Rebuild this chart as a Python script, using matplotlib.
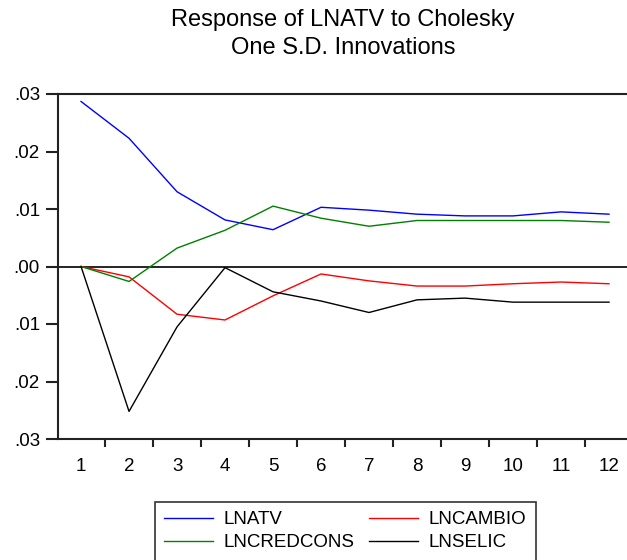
import matplotlib
matplotlib.use('Agg')
import matplotlib.pyplot as plt

# datos
periodos = list(range(1, 13))
lnatv = [0.0287, 0.0223, 0.0130, 0.0081, 0.0064, 0.0103, 0.0098, 0.0091, 0.0088, 0.0088, 0.0095, 0.0091]
lncambio = [0.0, -0.0018, -0.0083, -0.0093, -0.0051, -0.0013, -0.0025, -0.0034, -0.0034, -0.0030, -0.0027, -0.0030]
lncredcons = [0.0, -0.0026, 0.0032, 0.0063, 0.0105, 0.0084, 0.0070, 0.0080, 0.0080, 0.0080, 0.0080, 0.0077]
lnselic = [0.0, -0.0252, -0.0105, -0.0002, -0.0044, -0.0060, -0.0080, -0.0058, -0.0055, -0.0062, -0.0062, -0.0062]
y_ticks = [-0.03, -0.02, -0.01, 0.0, 0.01, 0.02, 0.03]
y_labels = ['.03', '.02', '.01', '.00', '.01', '.02', '.03']

plt.rcParams['font.family'] = ['Liberation Sans', 'DejaVu Sans']

fig = plt.figure(figsize=(6.27, 5.6), dpi=100)
ax = fig.add_axes([58 / 627, 1 - 439 / 560, 1 - 58 / 627, (439 - 94) / 560])

ax.axhline(0, color='black', linewidth=1.2)
l1, = ax.plot(periodos, lnatv, color='#0000ff', linewidth=1.0, label='LNATV')
l2, = ax.plot(periodos, lncambio, color='#ff0000', linewidth=1.0, label='LNCAMBIO')
l3, = ax.plot(periodos, lncredcons, color='#008000', linewidth=1.0, label='LNCREDCONS')
l4, = ax.plot(periodos, lnselic, color='black', linewidth=1.0, label='LNSELIC')

ax.set_xlim(0.52, 12.375)
ax.set_ylim(-0.03, 0.03)

# ejes estilo eviews
ax.set_xticks([p + 0.5 for p in periodos[:-1]])
ax.set_xticklabels([])
ax.set_xticks(periodos, minor=True)
ax.set_xticklabels([str(p) for p in periodos], minor=True, fontsize=13.5)
ax.tick_params(axis='x', which='major', direction='out', length=6, width=1.5, color='#222222')
ax.tick_params(axis='x', which='minor', length=0, pad=14)
ax.set_yticks(y_ticks)
ax.set_yticklabels(y_labels, fontsize=13.5)
ax.tick_params(axis='y', direction='out', length=9, width=1.5, color='#222222', pad=4)

for lado in ['left', 'top', 'bottom']:
    ax.spines[lado].set_linewidth(1.5)
    ax.spines[lado].set_color('#222222')
ax.spines['right'].set_visible(False)

fig.text(343 / 627, 1 - 20 / 560, 'Response of LNATV to Cholesky', ha='center', va='center', fontsize=17)
fig.text(343 / 627, 1 - 48 / 560, 'One S.D. Innovations', ha='center', va='center', fontsize=17)

leg = fig.legend([l1, l3, l2, l4], ['LNATV', 'LNCREDCONS', 'LNCAMBIO', 'LNSELIC'],
                 ncol=2, loc='upper left', bbox_to_anchor=(155 / 627, 1 - 502 / 560),
                 borderaxespad=0, fontsize=13.5, fancybox=False, frameon=True,
                 handlelength=2.6, handletextpad=0.55, columnspacing=0.8,
                 labelspacing=0.3, borderpad=0.5)
leg.get_frame().set_edgecolor('black')
leg.get_frame().set_linewidth(1.2)

plt.savefig('out.png', dpi=100)
plt.close()
